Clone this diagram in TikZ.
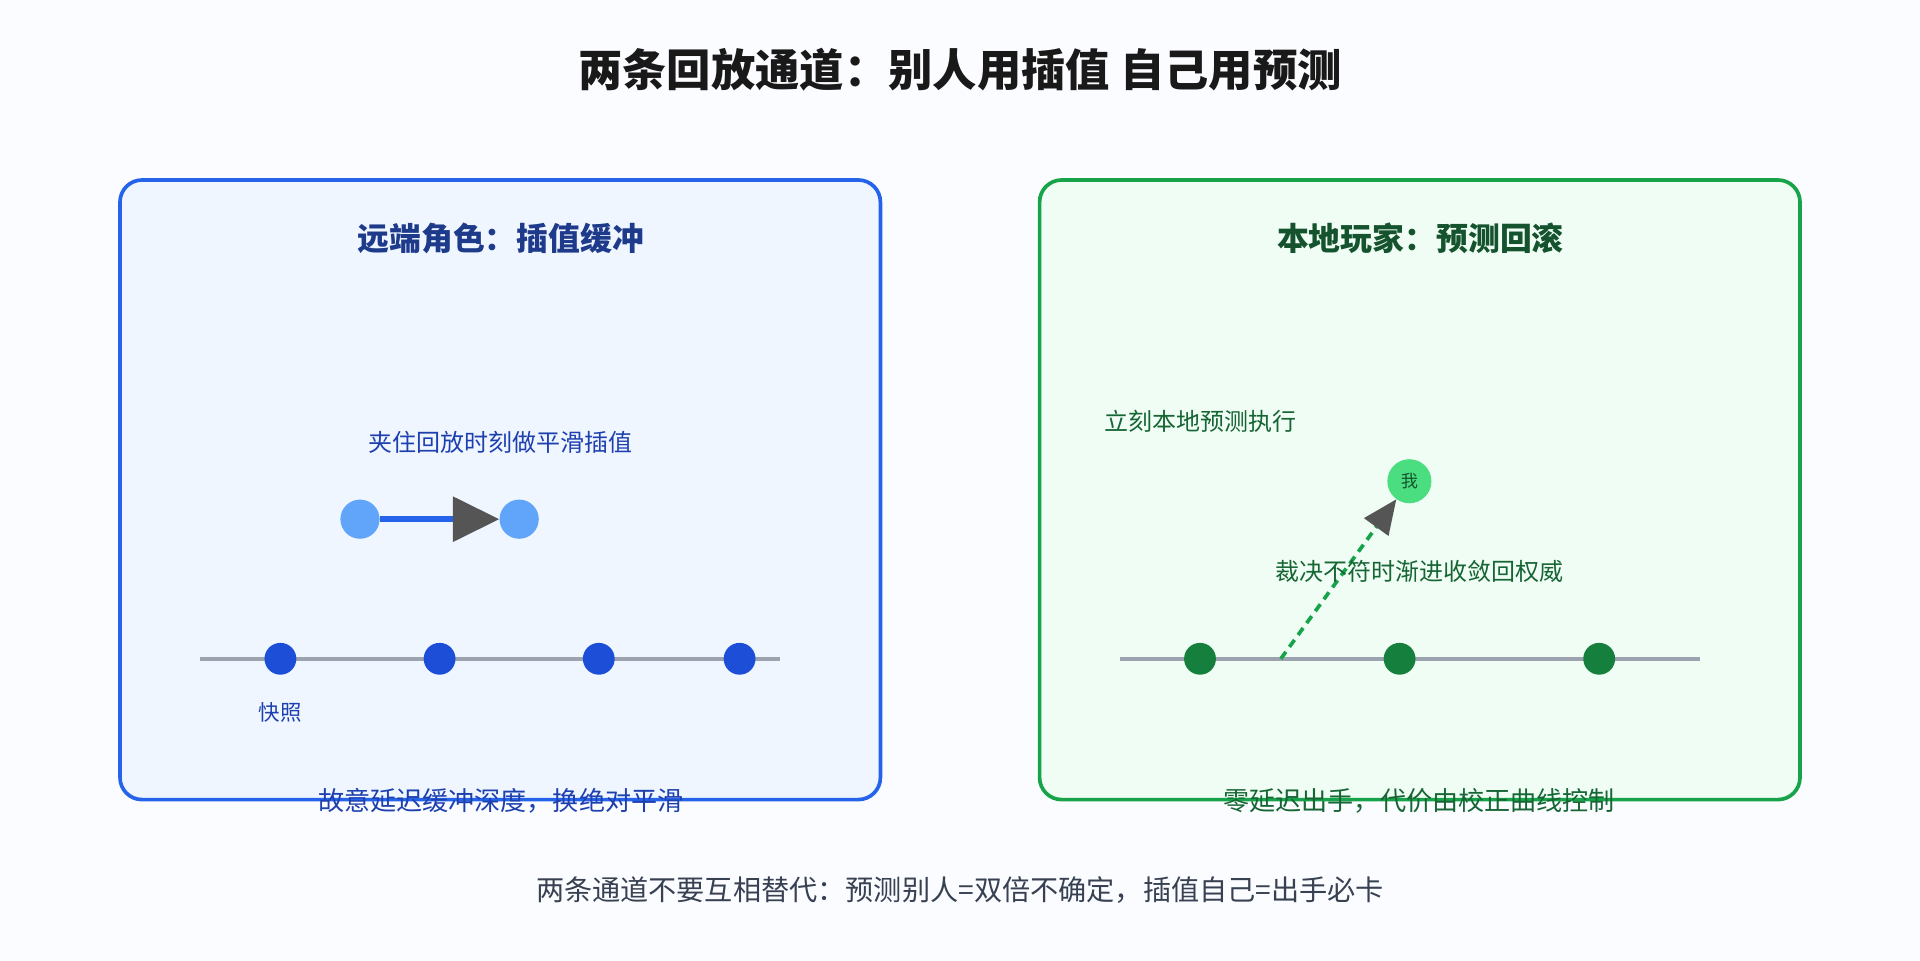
\documentclass[tikz,border=0pt]{standalone}
\usepackage{fontspec}
\setmainfont{Noto Sans CJK SC}
\usetikzlibrary{arrows.meta}
\definecolor{bgc}{HTML}{FBFCFF}
\definecolor{blueS}{HTML}{2563EB}
\definecolor{blueF}{HTML}{EFF6FF}
\definecolor{blueT}{HTML}{1E3A8A}
\definecolor{blueL}{HTML}{1E40AF}
\definecolor{blueC}{HTML}{60A5FA}
\definecolor{blueD}{HTML}{1D4ED8}
\definecolor{greenS}{HTML}{16A34A}
\definecolor{greenF}{HTML}{F0FDF4}
\definecolor{greenT}{HTML}{14532D}
\definecolor{greenL}{HTML}{166534}
\definecolor{greenD}{HTML}{15803D}
\definecolor{greenC}{HTML}{4ADE80}
\definecolor{tline}{HTML}{9CA3AF}
\definecolor{arrgray}{HTML}{555555}
\definecolor{foot}{HTML}{374151}
\newcommand{\fsz}[1]{\fontsize{#1}{#1}\selectfont}
\begin{document}
\begin{tikzpicture}[x=1pt,y=-1pt,
  panel/.style={rectangle, rounded corners=18pt, line width=3pt, minimum width=621pt, minimum height=506pt, inner sep=0pt},
  ptitle/.style={font=\fsz{26}\bfseries},
  lbl/.style={font=\fsz{19.6}, inner sep=0pt},
  captxt/.style={font=\fsz{21.3}, inner sep=0pt},
  dot/.style={circle, inner sep=0pt, minimum size=26pt},
  tl/.style={line width=3pt, tline},
  big/.style={circle, inner sep=0pt, minimum size=32pt, fill=blueC}
]
\fill[bgc] (0,0) rectangle (1568,784);
\useasboundingbox (0,0) rectangle (1568,784);

\node[font=\fsz{36.2}\bfseries, text=black!90] (title) at (784,57) {两条回放通道：别人用插值 自己用预测};

% left panel
\node[panel, draw=blueS, fill=blueF] (lbox) at (408.5,400) {};
\node[ptitle, text=blueT] (lt) at (409,195) {远端角色：插值缓冲};
\node[lbl, text=blueL] (l1) at (409,361) {夹住回放时刻做平滑插值};
\node[big] (a1) at (294,424) {};
\node[big] (a2) at (424,424) {};
\draw[line width=5pt, blueS, -{Triangle[length=38pt,width=36pt,color=arrgray]}] (a1) -- (a2);
\coordinate (lts) at (163,538);
\coordinate (lte) at (637,538);
\draw[tl] (lts) -- (lte);
\node[dot, fill=blueD] (d1) at (229,538) {};
\node[dot, fill=blueD] (d2) at (359,538) {};
\node[dot, fill=blueD] (d3) at (489,538) {};
\node[dot, fill=blueD] (d4) at (604,538) {};
\node[font=\fsz{17.5}, text=blueL, inner sep=0pt] (snap) at (229,582) {快照};
\node[captxt, text=blueL] (lc) at (409,654) {故意延迟缓冲深度，换绝对平滑};

% right panel
\node[panel, draw=greenS, fill=greenF] (rbox) at (1159.5,400) {};
\node[ptitle, text=greenT] (rt) at (1160,195) {本地玩家：预测回滚};
\node[lbl, text=greenL, anchor=west] (r1) at (902,344) {立刻本地预测执行};
\coordinate (rts) at (915,538);
\coordinate (rte) at (1388,538);
\draw[tl] (rts) -- (rte);
\node[dot, fill=greenD] (e1) at (980,538) {};
\node[dot, fill=greenD] (e2) at (1143,538) {};
\node[dot, fill=greenD] (e3) at (1306,538) {};
\node[circle, inner sep=0pt, minimum size=36pt, fill=greenC, font=\fsz{14}, text=greenT] (me) at (1151,393) {我};
\coordinate (ps) at (1046,538);
\draw[line width=3pt, greenS, dash pattern=on 7pt off 5pt, -{Triangle[length=28pt,width=24pt,color=arrgray]}] (ps) -- (me);
\node[lbl, text=greenL] (r2) at (1159,467) {裁决不符时渐进收敛回权威};
\node[captxt, text=greenL] (rc) at (1159,654) {零延迟出手，代价由校正曲线控制};

\node[font=\fsz{23}, text=foot, inner sep=0pt] (ft) at (784,727) {两条通道不要互相替代：预测别人=双倍不确定，插值自己=出手必卡};
\end{tikzpicture}
\end{document}
